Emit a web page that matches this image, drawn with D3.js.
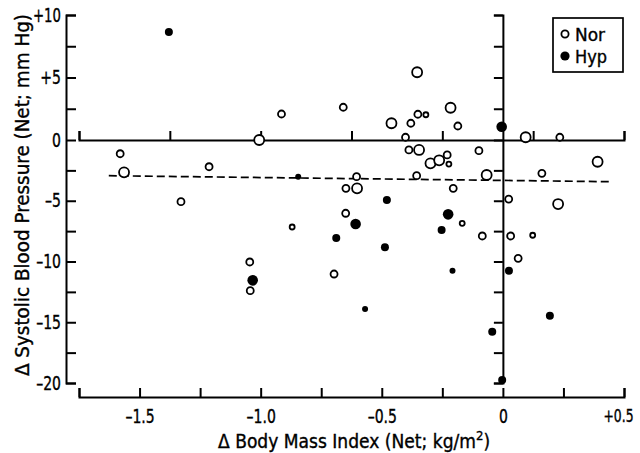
<!DOCTYPE html>
<html><head><meta charset="utf-8">
<script src="https://cdn.jsdelivr.net/npm/d3@7"></script>
<style>
html,body{margin:0;padding:0;background:#fff;}
svg{display:block;}
text{font-family:"DejaVu Sans Condensed","Liberation Sans Narrow","DejaVu Sans",sans-serif;fill:#000;stroke:#000;stroke-width:0.35px;}
</style></head>
<body>
<svg id="chart" width="640" height="453"></svg>
<script>
// ---- data ----
const norX = [-0.354,-0.914,-0.659,-0.216,-0.351,-0.318,-0.460,-0.380,-0.186,-0.402,0.094,0.235,-1.006,-0.388,-0.346,-0.099,-0.299,-0.263,-0.230,-0.223,0.391,0.161,-0.067,-0.356,-0.604,-0.648,-0.602,-0.205,0.024,0.228,-0.649,-0.168,-0.085,0.032,0.123,0.063,-1.580,-1.564,-1.213,-1.329,-0.870,-1.045,-1.043,-0.697];
const norY = [5.42,2.08,2.62,2.58,2.06,2.02,1.34,1.34,1.12,0.22,0.22,0.22,0.0,-0.82,-0.82,-0.88,-1.92,-1.67,-1.23,-1.98,-1.79,-2.74,-2.88,-2.94,-3.02,-3.98,-3.98,-3.98,-4.86,-5.27,-6.03,-6.86,-7.90,-7.90,-7.84,-9.74,-1.13,-2.66,-2.20,-5.08,-7.16,-10.04,-12.40,-11.03];
const norSize = ["L","M","M","L","M","S","L","M","M","M","L","M","L","M","L","M","L","L","M","S","L","M","L","M","M","M","L","M","M","L","M","S","M","M","S","M","M","L","M","M","S","M","M","M"];

const hypX = [-1.379,-0.845,-0.005,-0.479,-0.608,-0.226,-0.253,-0.688,-0.487,-0.208,0.025,-0.569,0.194,-0.044,-0.003,-1.033];
const hypY = [8.64,-3.02,1.06,-4.94,-6.91,-6.12,-7.41,-8.07,-8.83,-10.76,-10.76,-13.91,-14.46,-15.78,-19.75,-11.55];
const hypSize = ["M","S","L","M","L","L","M","M","M","S","M","S","M","M","M","L"];

const regX = [-1.627, 0.438];
const regY = [-2.94, -3.43];

const xTickVals = [-1.5,-1.0,-0.5,0,0.5];
const xTickLabels = ["\u20131.5","\u20131.0","\u20130.5","0","+0.5"];
const yTickVals = [10,5,0,-5,-10,-15,-20];
const yTickLabels = ["+10","+5","0","\u20135","\u201310","\u201315","\u201320"];
const xMinor = [-1.75,-1.5,-1.25,-1.0,-0.75,-0.5,-0.25,0,0.25,0.5];
const yMinor = [10,7.5,5,2.5,0,-2.5,-5,-7.5,-10,-12.5,-15,-17.5,-20];
const innerXTicks = [-1.75,-1.375,-1.0,-0.625,-0.25,0.125,0.5];

const legendLabels = ["Nor","Hyp"];
const xTitle = "\u0394 Body Mass Index (Net; kg/m";
const yTitle = "\u0394 Systolic Blood Pressure (Net; mm Hg)";

// ---- scales ----
const x = d3.scaleLinear().domain([-1.75, 0.5]).range([79, 624]);
const y = d3.scaleLinear().domain([10, 0, -20]).range([15, 140, 383]);

const svg = d3.select("#chart");
const rOpen = {S:2.5, M:3.5, L:5.0};
const rFill = {S:3.0, M:4.0, L:5.3};

function styleAxis(g, maxW){
  g.selectAll("path.domain").attr("stroke","#000").attr("stroke-width",2).attr("fill","none");
  g.selectAll(".tick line").attr("stroke","#000").attr("stroke-width",2);
  g.selectAll("text").attr("font-size",19).attr("fill","#000")
   .style("font-family",'"DejaVu Sans Condensed","Liberation Sans Narrow","DejaVu Sans",sans-serif')
   .each(function(){
     const w = this.getComputedTextLength();
     if (w > 0) d3.select(this).attr("textLength", Math.min(w*0.82, maxW || 999)).attr("lengthAdjust","spacingAndGlyphs");
   });
}

// left axis (ticks inward)
const yLab = new Map(yTickVals.map((v,i)=>[v,yTickLabels[i]]));
const gy = svg.append("g").attr("transform","translate(66,0)")
  .call(d3.axisLeft(y).tickValues(yMinor).tickSizeInner(-10).tickSizeOuter(-10).tickPadding(5)
    .tickFormat(v => yLab.has(v) ? yLab.get(v) : ""));
styleAxis(gy, 28);

// bottom axis
const xLab = new Map(xTickVals.map((v,i)=>[v,xTickLabels[i]]));
const gx = svg.append("g").attr("transform","translate(0,397)")
  .call(d3.axisBottom(x).tickValues(xMinor).tickSizeInner(-9).tickSizeOuter(-9).tickPadding(13)
    .tickFormat(v => xLab.has(v) ? xLab.get(v) : ""));
styleAxis(gx, 30);
gx.selectAll(".tick text").filter(v => v === 0.5)
  .attr("text-anchor","end").attr("x", 9).attr("font-size",17);

// inner horizontal axis at y=0
const gh = svg.append("g").attr("transform",`translate(0,${y(0)})`)
  .call(d3.axisTop(x).tickValues(innerXTicks).tickSizeInner(9).tickSizeOuter(9).tickFormat(""));
styleAxis(gh);
// inner vertical axis at x=0
const gv = svg.append("g").attr("transform",`translate(${x(0)},0)`)
  .call(d3.axisLeft(y).tickValues(yMinor).tickSizeInner(9).tickSizeOuter(9).tickFormat(""));
styleAxis(gv);

// regression (dashed)
svg.append("path")
  .attr("d", d3.line().x(d=>x(d[0])).y(d=>y(d[1]))(regX.map((v,i)=>[v,regY[i]])))
  .attr("stroke","#000").attr("stroke-width",1.7).attr("stroke-dasharray","8,4").attr("fill","none");

// points
const nor = norX.map((v,i)=>({x:v,y:norY[i],s:norSize[i]}));
const hyp = hypX.map((v,i)=>({x:v,y:hypY[i],s:hypSize[i]}));
svg.append("g").selectAll("circle").data(nor).join("circle")
  .attr("cx",d=>x(d.x)).attr("cy",d=>y(d.y)).attr("r",d=>rOpen[d.s])
  .attr("fill","#fff").attr("stroke","#000").attr("stroke-width",1.8);
svg.append("g").selectAll("circle").data(hyp).join("circle")
  .attr("cx",d=>x(d.x)).attr("cy",d=>y(d.y)).attr("r",d=>rFill[d.s])
  .attr("fill","#000");

// legend
const lg = svg.append("g");
lg.append("rect").attr("x",553).attr("y",18).attr("width",70).attr("height",54)
  .attr("fill","#fff").attr("stroke","#000").attr("stroke-width",1.7);
lg.append("circle").attr("cx",565).attr("cy",34).attr("r",3.6).attr("fill","#fff").attr("stroke","#000").attr("stroke-width",1.8);
lg.append("circle").attr("cx",565).attr("cy",56).attr("r",4.6).attr("fill","#000");
lg.append("text").attr("x",575).attr("y",41).attr("font-size",18).attr("textLength",30).attr("lengthAdjust","spacingAndGlyphs").text(legendLabels[0]);
lg.append("text").attr("x",575).attr("y",63).attr("font-size",18).attr("textLength",32).attr("lengthAdjust","spacingAndGlyphs").text(legendLabels[1]);

// titles
const xt = svg.append("text").attr("x",218).attr("y",448).attr("text-anchor","start").attr("font-size",19);
xt.append("tspan").attr("textLength",258).attr("lengthAdjust","spacingAndGlyphs").text(xTitle);
xt.append("tspan").attr("font-size",13).attr("dy",-8).text("2");
xt.append("tspan").attr("dy",8).text(")");
svg.append("text").attr("transform","translate(29,195) rotate(-90)")
  .attr("text-anchor","middle").attr("font-size",19)
  .attr("textLength",362).attr("lengthAdjust","spacingAndGlyphs").text(yTitle);
</script>
</body></html>
